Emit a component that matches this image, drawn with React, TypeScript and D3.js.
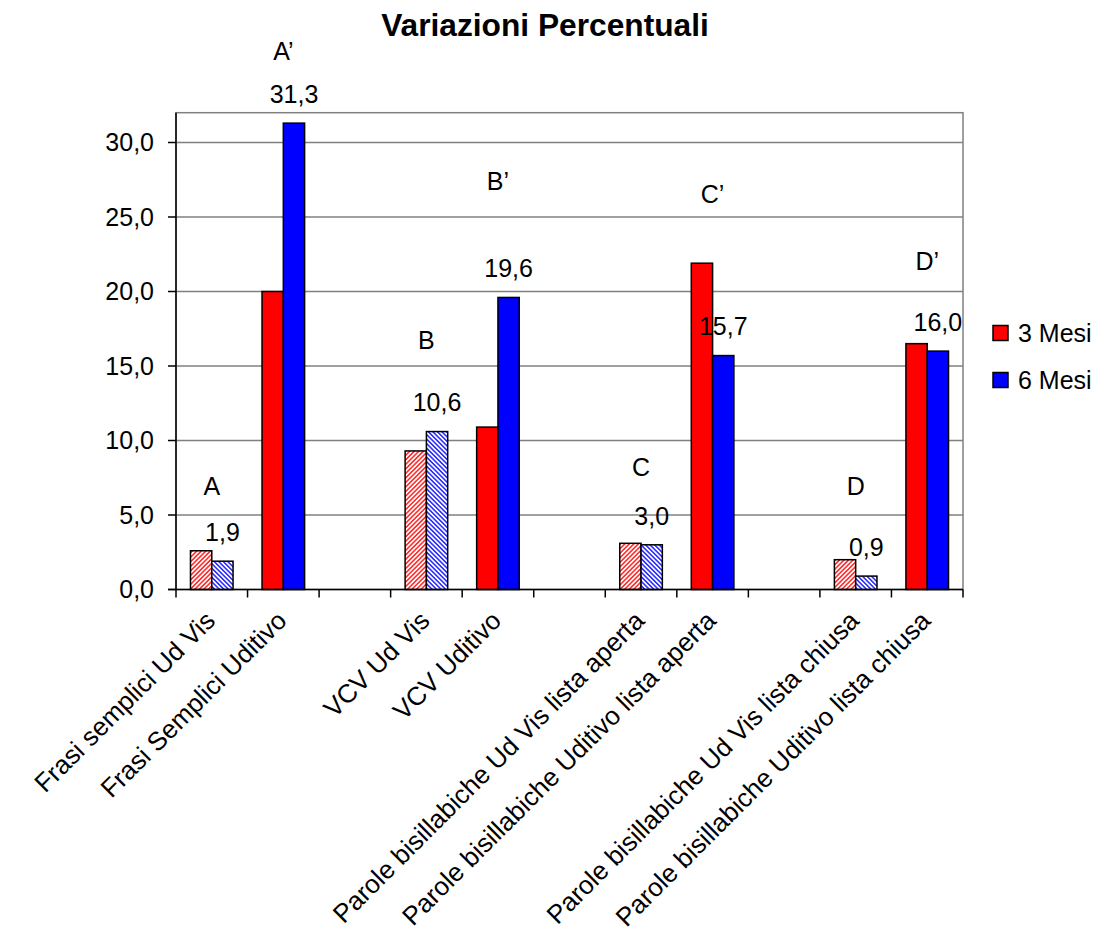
import React from "react";
import * as d3 from "d3";

// Categories on the x axis (blank entries separate the groups)
const categories: string[] = [
  "Frasi semplici Ud Vis",
  "Frasi Semplici Uditivo",
  "",
  "VCV Ud Vis",
  "VCV Uditivo",
  "",
  "Parole bisillabiche Ud Vis lista aperta",
  "Parole bisillabiche Uditivo lista aperta",
  "",
  "Parole bisillabiche Ud Vis lista chiusa",
  "Parole bisillabiche Uditivo lista chiusa",
];

// Percentage variation after 3 and 6 months
const mesi3: (number | null)[] = [2.6, 20.0, null, 9.3, 10.9, null, 3.1, 21.9, null, 2.0, 16.5];
const mesi6: (number | null)[] = [1.9, 31.3, null, 10.6, 19.6, null, 3.0, 15.7, null, 0.9, 16.0];

// Audio-visual conditions are drawn hatched
const hatched: boolean[] = [true, false, false, true, false, false, true, false, false, true, false];

const seriesNames: string[] = ["3 Mesi", "6 Mesi"];
const yTicks: number[] = [0, 5, 10, 15, 20, 25, 30];

// Group letters: category index and height in axis units
const groupLetters: string[] = ["A", "A\u2019", "B", "B\u2019", "C", "C\u2019", "D", "D\u2019"];
const letterCategory: number[] = [0, 1, 3, 4, 6, 7, 9, 10];
const letterValue: number[] = [6.95, 36.1, 16.7, 27.4, 8.2, 26.5, 6.95, 22.0];

const W = 1105;
const H = 942;
const FONT = "'Liberation Sans', Arial, Helvetica, sans-serif";
const fmt = (v: number) => v.toFixed(1).replace(".", ",");

export default function App() {
  const left = 176;
  const right = 963;
  const top = 112.7;
  const bottom = 589.5;

  const x = d3
    .scaleBand<number>()
    .domain(categories.map((_, i) => i))
    .range([left, right])
    .paddingInner(0)
    .paddingOuter(0);

  const xs = d3
    .scaleBand<number>()
    .domain([0, 1])
    .range([0, x.bandwidth()])
    .paddingInner(0)
    .paddingOuter(0.68);

  const y = d3.scaleLinear().domain([0, 32]).range([bottom, top]);

  const colors = ["#FF0000", "#0000FF"];
  const series = [mesi3, mesi6];

  const boundaries = d3.range(categories.length + 1).map((i) => left + i * x.step());

  return (
    <svg
      width={W}
      height={H}
      style={{ position: "absolute", left: 0, top: 0, background: "#fff" }}
      fontFamily={FONT}
    >
      <defs>
        <pattern id="hatchRed" width={3.2} height={3.2} patternUnits="userSpaceOnUse" patternTransform="rotate(45)">
          <rect width={3.2} height={3.2} fill="#fff" />
          <line x1={0.8} y1={0} x2={0.8} y2={3.2} stroke="#FF0000" strokeWidth={1.3} />
        </pattern>
        <pattern id="hatchBlue" width={3.2} height={3.2} patternUnits="userSpaceOnUse" patternTransform="rotate(-45)">
          <rect width={3.2} height={3.2} fill="#fff" />
          <line x1={0.8} y1={0} x2={0.8} y2={3.2} stroke="#0000FF" strokeWidth={1.3} />
        </pattern>
      </defs>

      {/* Title */}
      <text x={545} y={36} textAnchor="middle" fontSize={31.7} fontWeight="bold" fill="#000">
        Variazioni Percentuali
      </text>

      {/* Plot area frame and gridlines */}
      <rect x={left} y={top} width={right - left} height={bottom - top} fill="#fff" stroke="#808080" strokeWidth={1.5} />
      {yTicks.filter((t) => t > 0).map((t) => (
        <line key={t} x1={left} x2={right} y1={y(t)} y2={y(t)} stroke="#808080" strokeWidth={1.5} />
      ))}

      {/* Bars */}
      {categories.map((_, i) =>
        series.map((vals, s) => {
          const v = vals[i];
          if (v == null) return null;
          const bx = (x(i) as number) + (xs(s) as number);
          const fill = hatched[i] ? (s === 0 ? "url(#hatchRed)" : "url(#hatchBlue)") : colors[s];
          return (
            <rect
              key={`${i}-${s}`}
              x={bx}
              y={y(v)}
              width={xs.bandwidth()}
              height={y(0) - y(v)}
              fill={fill}
              stroke="#000"
              strokeWidth={1.5}
            />
          );
        })
      )}

      {/* Axes */}
      <line x1={left} x2={left} y1={top} y2={bottom} stroke="#000" strokeWidth={1.5} />
      <line x1={left - 8} x2={right} y1={bottom} y2={bottom} stroke="#000" strokeWidth={1.5} />
      {yTicks.map((t) => (
        <g key={t}>
          <line x1={left - 8} x2={left} y1={y(t)} y2={y(t)} stroke="#000" strokeWidth={1.5} />
          <text x={left - 22} y={y(t)} dy="0.35em" textAnchor="end" fontSize={25} fill="#000">
            {fmt(t)}
          </text>
        </g>
      ))}
      {boundaries.map((bx, i) => (
        <line key={i} x1={bx} x2={bx} y1={bottom} y2={bottom + 8} stroke="#000" strokeWidth={1.5} />
      ))}

      {/* Category labels */}
      {categories.map((c, i) => {
        const cx = (x(i) as number) + x.bandwidth() / 2 - 8;
        const cy = bottom + 20;
        return (
          <text
            key={i}
            transform={`translate(${cx},${cy}) rotate(-45)`}
            textAnchor="end"
            dy="0.7em"
            fontSize={26}
            fill="#000"
          >
            {c}
          </text>
        );
      })}

      {/* Value labels on the 6-month series */}
      {mesi6.map((v, i) => {
        if (v == null) return null;
        const cx = (x(i) as number) + (xs(1) as number) + xs.bandwidth() / 2;
        return (
          <text key={i} x={cx} y={y(v) - 29} dy="0.35em" textAnchor="middle" fontSize={25} fill="#000">
            {fmt(v)}
          </text>
        );
      })}

      {/* Group letters */}
      {groupLetters.map((g, k) => {
        const i = letterCategory[k];
        const cx = (x(i) as number) + x.bandwidth() / 2;
        return (
          <text key={g} x={cx} y={y(letterValue[k])} dy="0.35em" textAnchor="middle" fontSize={25} fill="#000">
            {g}
          </text>
        );
      })}

      {/* Legend */}
      {seriesNames.map((name, s) => (
        <g key={name} transform={`translate(993, ${333 + s * 47})`}>
          <rect x={0} y={-7.5} width={15} height={15} fill={colors[s]} stroke="#000" strokeWidth={1.5} />
          <text x={25} y={0} dy="0.35em" fontSize={25} fill="#000">
            {name}
          </text>
        </g>
      ))}
    </svg>
  );
}
